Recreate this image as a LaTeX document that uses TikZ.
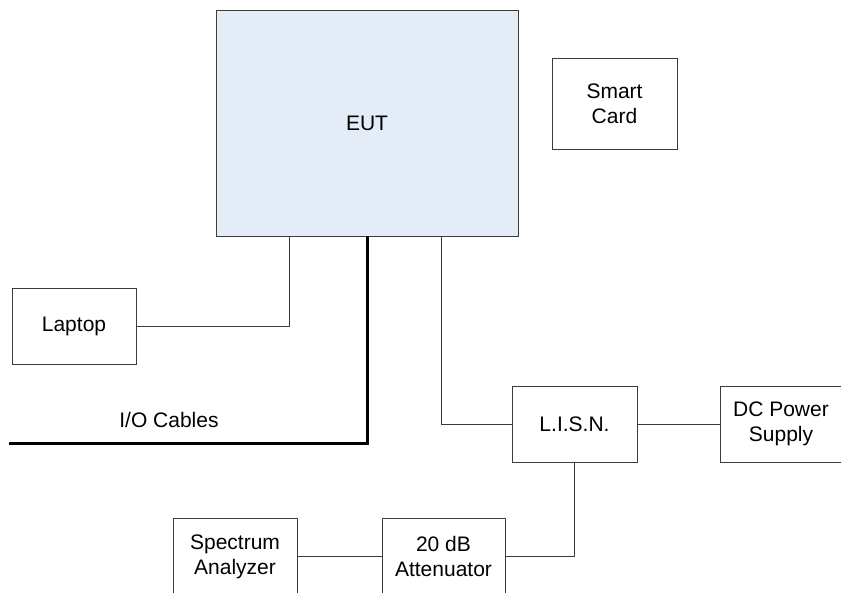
\documentclass[tikz,border=0pt]{standalone}
\usepackage{fontspec}
\setmainfont{Liberation Sans}
\usepackage{tikz}
\usetikzlibrary{positioning, calc}

\definecolor{eutblue}{RGB}{228,236,247}
\definecolor{boxline}{RGB}{60,60,60}

\begin{document}
\begin{tikzpicture}[
			x=1pt, y=-1pt,
			unit/.style={rectangle, draw=boxline, line width=0.9pt, fill=white, inner sep=0pt, minimum width=124pt, minimum height=76pt, align=center, font=\fontsize{21}{25}\selectfont},
			eutbox/.style={unit, fill=eutblue, minimum width=302pt, minimum height=226pt},
			wire/.style={draw=boxline, line width=0.9pt},
			iowire/.style={draw=black, line width=3pt}
			]
			
			% --- Page frame ---
			\useasboundingbox (0,0) rectangle (841,592);
			\clip (0,0) rectangle (841,592);
			
			% --- Equipment under test ---
			\node[eutbox] (eut) at (367, 123) {EUT};
			\node[unit, minimum width=125pt, minimum height=91pt] (card) at (614.5, 103.5) {Smart\\Card};
			
			% --- Left side ---
			\node[unit] (laptop) at (74, 326) {Laptop};
			\coordinate (ioend) at (9, 443);
			\node[font=\fontsize{21}{25}\selectfont] (iolabel) at (169, 420) {I/O Cables};
			
			% --- Power path ---
			\node[unit, minimum width=125pt] (lisn) at (574.5, 424) {L.I.S.N.};
			\node[unit, minimum width=122pt] (dcps) at (781, 424) {DC Power\\Supply};
			
			% --- Measurement chain ---
			\node[unit] (analyzer) at (235, 556.5) {Spectrum\\Analyzer};
			\node[unit, minimum width=123pt] (atten) at (443.5, 556.5) {20 dB\\Attenuator};
			
			% --- Connections ---
			\draw[wire] (laptop.east) -| ([xshift=-78pt]eut.south);
			\draw[iowire] (eut.south) |- (ioend);
			\draw[wire] ([xshift=74pt]eut.south) |- (lisn.west);
			\draw[wire] (lisn.east) -- (dcps.west);
			\draw[wire] (lisn.south) |- (atten.east);
			\draw[wire] (atten.west) -- (analyzer.east);
			
			\end{tikzpicture}
\end{document}
